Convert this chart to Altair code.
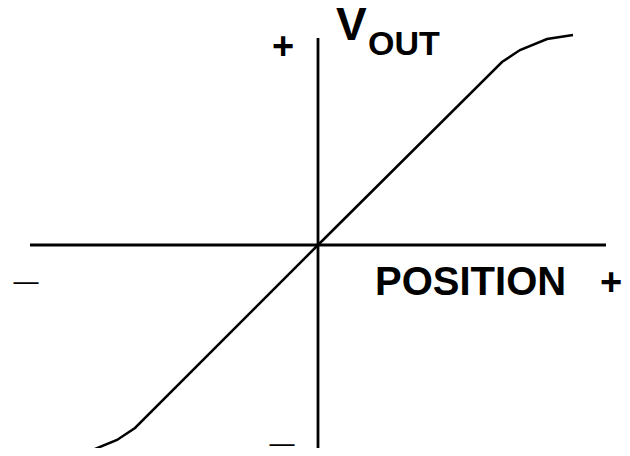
import altair as alt
import pandas as pd

# Transfer curve (position vs output); origin at axes crossing
curve_x = [-255, -228, -201, -183, 0, 184, 202, 229, 255]
curve_y = [-210, -206, -195, -183, 0, 183, 195, 206, 210]

# Axis extents
h_axis_x = [-288, 288]
v_axis_y = [-215, 207]

# Labels
label_text = ["V", "OUT", "+", "POSITION", "+", "—", "—"]
label_x = [18, 50, -35, 57, 293, -292, -36]
label_y = [205, 190, 186, -50, -50, -45, -207]
label_size = [46, 34, 38, 40, 38, 25, 25]
label_weight = ["bold", "bold", "bold", "bold", "bold", "normal", "normal"]
label_align = ["left", "left", "center", "left", "center", "center", "center"]

xs = alt.Scale(domain=[-310, 304], nice=False, zero=False)
ys = alt.Scale(domain=[-203, 237], nice=False, zero=False)

curve_df = pd.DataFrame({"x": curve_x, "y": curve_y, "i": range(len(curve_x))})
h_df = pd.DataFrame({"x1": [h_axis_x[0]], "x2": [h_axis_x[1]], "y": [0]})
v_df = pd.DataFrame({"x": [0], "y1": [v_axis_y[0]], "y2": [v_axis_y[1]]})

h_rule = alt.Chart(h_df).mark_rule(color="black", strokeWidth=2.8).encode(
    x=alt.X("x1:Q", scale=xs, axis=None),
    x2="x2:Q",
    y=alt.Y("y:Q", scale=ys, axis=None),
)
v_rule = alt.Chart(v_df).mark_rule(color="black", strokeWidth=2.8).encode(
    x=alt.X("x:Q", scale=xs, axis=None),
    y=alt.Y("y1:Q", scale=ys, axis=None),
    y2="y2:Q",
)
line = alt.Chart(curve_df).mark_line(color="black", strokeWidth=2.5).encode(
    x=alt.X("x:Q", scale=xs, axis=None),
    y=alt.Y("y:Q", scale=ys, axis=None),
    order="i:Q",
)

layers = [h_rule, v_rule, line]
for t, x, y, s, w, a in zip(label_text, label_x, label_y, label_size, label_weight, label_align):
    df = pd.DataFrame({"x": [x], "y": [y], "t": [t]})
    layers.append(
        alt.Chart(df).mark_text(
            font="Liberation Sans", fontSize=s, fontWeight=w, align=a,
            baseline="alphabetic", color="black",
        ).encode(
            x=alt.X("x:Q", scale=xs, axis=None),
            y=alt.Y("y:Q", scale=ys, axis=None),
            text="t:N",
        )
    )

chart = alt.layer(*layers).properties(
    width=614, height=440, padding=0,
    autosize=alt.AutoSizeParams(type="none"),
    background="white",
).configure_view(stroke=None)

chart.save("out.html", embed_options={"renderer": "svg", "actions": False})
